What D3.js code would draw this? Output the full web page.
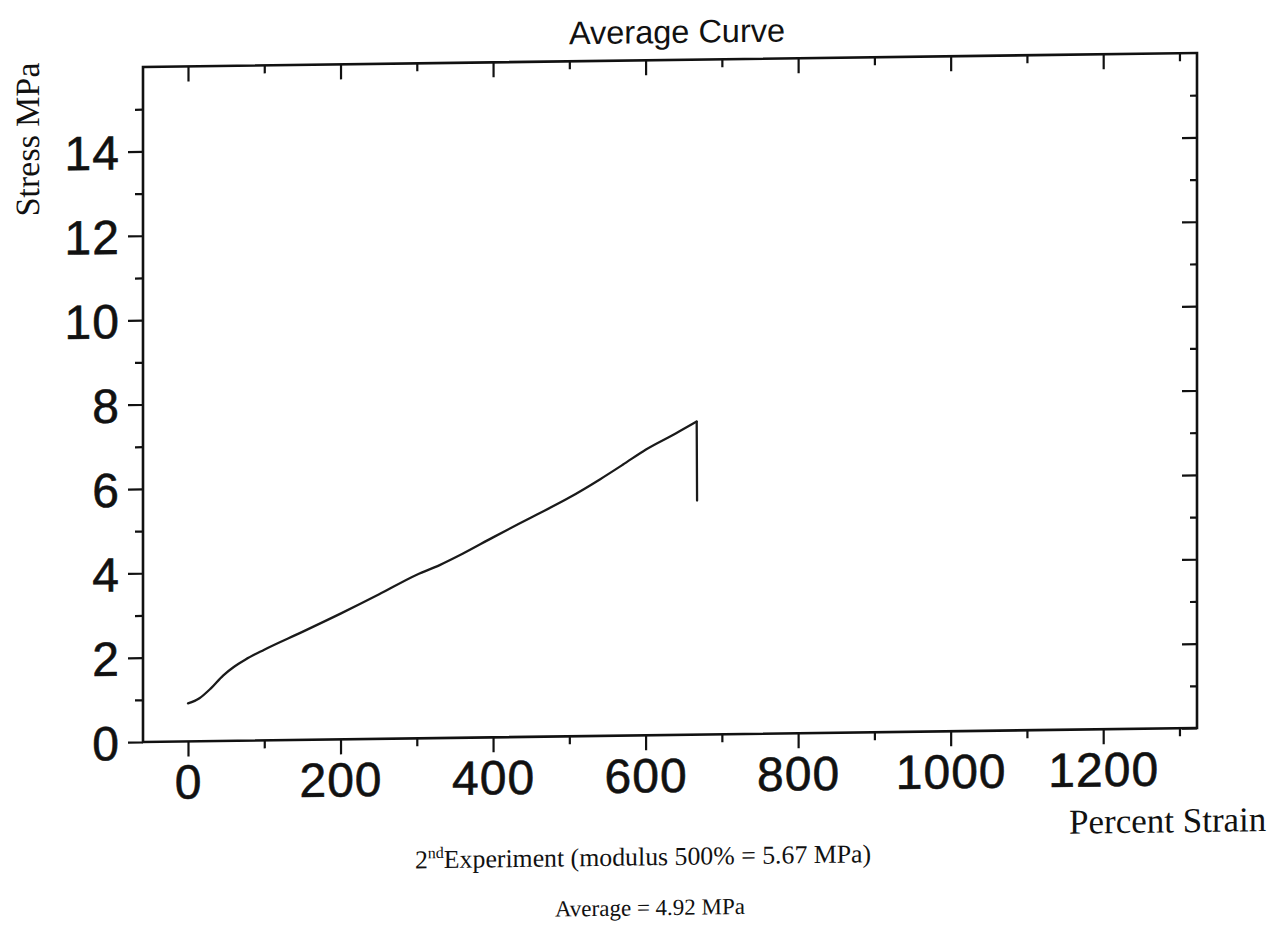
<!DOCTYPE html>
<html>
<head>
<meta charset="utf-8">
<script src="https://cdn.jsdelivr.net/npm/d3@7"></script>
<style>
  html, body { margin: 0; padding: 0; background: #ffffff; }
  svg { display: block; }
</style>
</head>
<body>
<svg id="chart" width="1276" height="950"></svg>
<script>
// Stress–strain average curve (percent strain vs. stress in MPa)
const strain = [0, 15, 30, 46, 60, 75, 100, 150, 200, 250, 300, 330, 360, 400, 450, 500, 540, 570, 600, 640, 667];
const stress = [0.9, 1.02, 1.25, 1.55, 1.75, 1.92, 2.15, 2.56, 2.98, 3.42, 3.88, 4.1, 4.36, 4.74, 5.2, 5.66, 6.08, 6.42, 6.77, 7.15, 7.42];
// Break: stress falls off at the final strain
const breakStrain = [667, 667.5];
const breakStress = [7.42, 5.55];

const xMajorTicks = [0, 200, 400, 600, 800, 1000, 1200];
const xMinorTicks = [100, 300, 500, 700, 900, 1100, 1300];
const yMajorTicks = [0, 2, 4, 6, 8, 10, 12, 14];
const yMinorTicks = [1, 3, 5, 7, 9, 11, 13, 15];

const titleText = "Average Curve";
const yAxisTitle = "Stress MPa";
const xAxisTitle = "Percent Strain";
const notePrefix = "2";
const noteSup = "nd";
const noteRest = "Experiment (modulus 500% = 5.67 MPa)";
const averageText = "Average = 4.92 MPa";

const svg = d3.select("#chart");

// Plot frame
const L = 143, R = 1197, T = 67, B = 742;

const x = d3.scaleLinear().domain([-59, 1323]).range([L, R]);
const y = d3.scaleLinear().domain([0, 16]).range([B, T]);

// Whole page is slightly sheared (right side sits higher)
const k = -0.0133;
const root = svg.append("g")
  .attr("transform", `matrix(1, ${k}, 0, 1, 0, ${-k * L})`);

const tickFont = "'Liberation Sans', Arial, sans-serif";
const serifFont = "'Liberation Serif', 'Times New Roman', serif";
const ink = "#111";

function styleAxis(g) {
  g.select(".domain").remove();
  g.selectAll(".tick line").attr("stroke", ink).attr("stroke-width", 2.2);
}

function styleLabels(g) {
  g.selectAll(".tick text")
    .attr("fill", ink)
    .attr("stroke", ink).attr("stroke-width", 0.6)
    .attr("font-family", tickFont).attr("font-size", 48)
    .attr("letter-spacing", 1);
}

const fmt = d3.format("d");

// Left axis: outward ticks with labels
root.append("g").attr("transform", `translate(${L},0)`)
  .call(d3.axisLeft(y).tickValues(yMajorTicks).tickFormat(fmt).tickSize(15).tickPadding(8).tickSizeOuter(0))
  .call(styleAxis)
  .call(styleLabels)
  .call(g => g.selectAll(".tick text").attr("dy", "0.36em"));
root.append("g").attr("transform", `translate(${L},0)`)
  .call(d3.axisLeft(y).tickValues(yMinorTicks).tickSize(8).tickFormat("").tickSizeOuter(0))
  .call(styleAxis);

// Right axis: inward ticks
root.append("g").attr("transform", `translate(${R},0)`)
  .call(d3.axisLeft(y).tickValues(yMajorTicks).tickSize(15).tickFormat("").tickSizeOuter(0))
  .call(styleAxis);
root.append("g").attr("transform", `translate(${R},0)`)
  .call(d3.axisLeft(y).tickValues(yMinorTicks).tickSize(7).tickFormat("").tickSizeOuter(0))
  .call(styleAxis);

// Bottom axis: outward ticks with labels
root.append("g").attr("transform", `translate(0,${B})`)
  .call(d3.axisBottom(x).tickValues(xMajorTicks).tickFormat(fmt).tickSize(15).tickPadding(8).tickSizeOuter(0))
  .call(styleAxis)
  .call(styleLabels);
root.append("g").attr("transform", `translate(0,${B})`)
  .call(d3.axisBottom(x).tickValues(xMinorTicks).tickSize(8).tickFormat("").tickSizeOuter(0))
  .call(styleAxis);

// Top axis: inward ticks
root.append("g").attr("transform", `translate(0,${T})`)
  .call(d3.axisBottom(x).tickValues(xMajorTicks).tickSize(15).tickFormat("").tickSizeOuter(0))
  .call(styleAxis);
root.append("g").attr("transform", `translate(0,${T})`)
  .call(d3.axisBottom(x).tickValues(xMinorTicks).tickSize(8).tickFormat("").tickSizeOuter(0))
  .call(styleAxis);

// Frame
root.append("rect")
  .attr("x", L).attr("y", T)
  .attr("width", R - L).attr("height", B - T)
  .attr("fill", "none").attr("stroke", ink).attr("stroke-width", 2.6);

// Curve: smooth loading branch, straight drop at break
const curveStyle = p => p
  .attr("fill", "none")
  .attr("stroke", "#1a1a1a")
  .attr("stroke-width", 2.3)
  .attr("stroke-linejoin", "round")
  .attr("stroke-linecap", "round");

root.append("path")
  .datum(strain.map((s, i) => [s, stress[i]]))
  .call(curveStyle)
  .attr("d", d3.line().x(d => x(d[0])).y(d => y(d[1])).curve(d3.curveMonotoneX));

root.append("path")
  .datum(breakStrain.map((s, i) => [s, breakStress[i]]))
  .call(curveStyle)
  .attr("d", d3.line().x(d => x(d[0])).y(d => y(d[1])));

// Titles
root.append("text")
  .attr("x", 677).attr("y", 50)
  .attr("text-anchor", "middle")
  .attr("font-family", tickFont).attr("font-size", 32.5)
  .attr("fill", ink)
  .text(titleText);

root.append("text")
  .attr("transform", `translate(39,138) rotate(-90)`)
  .attr("text-anchor", "middle")
  .attr("font-family", serifFont).attr("font-size", 34)
  .attr("fill", ink)
  .text(yAxisTitle);

root.append("text")
  .attr("x", 1069).attr("y", 846)
  .attr("font-family", serifFont).attr("font-size", 35)
  .attr("fill", ink)
  .text(xAxisTitle);

// Notes under the chart
const note = root.append("text")
  .attr("x", 643).attr("y", 872)
  .attr("text-anchor", "middle")
  .attr("font-family", serifFont).attr("font-size", 25.8)
  .attr("fill", ink);
note.append("tspan").text(notePrefix);
note.append("tspan").attr("font-size", 16).attr("dy", -10).text(noteSup);
note.append("tspan").attr("dy", 10).text(noteRest);

root.append("text")
  .attr("x", 650).attr("y", 922)
  .attr("text-anchor", "middle")
  .attr("font-family", serifFont).attr("font-size", 23)
  .attr("fill", ink)
  .text(averageText);
</script>
</body>
</html>
